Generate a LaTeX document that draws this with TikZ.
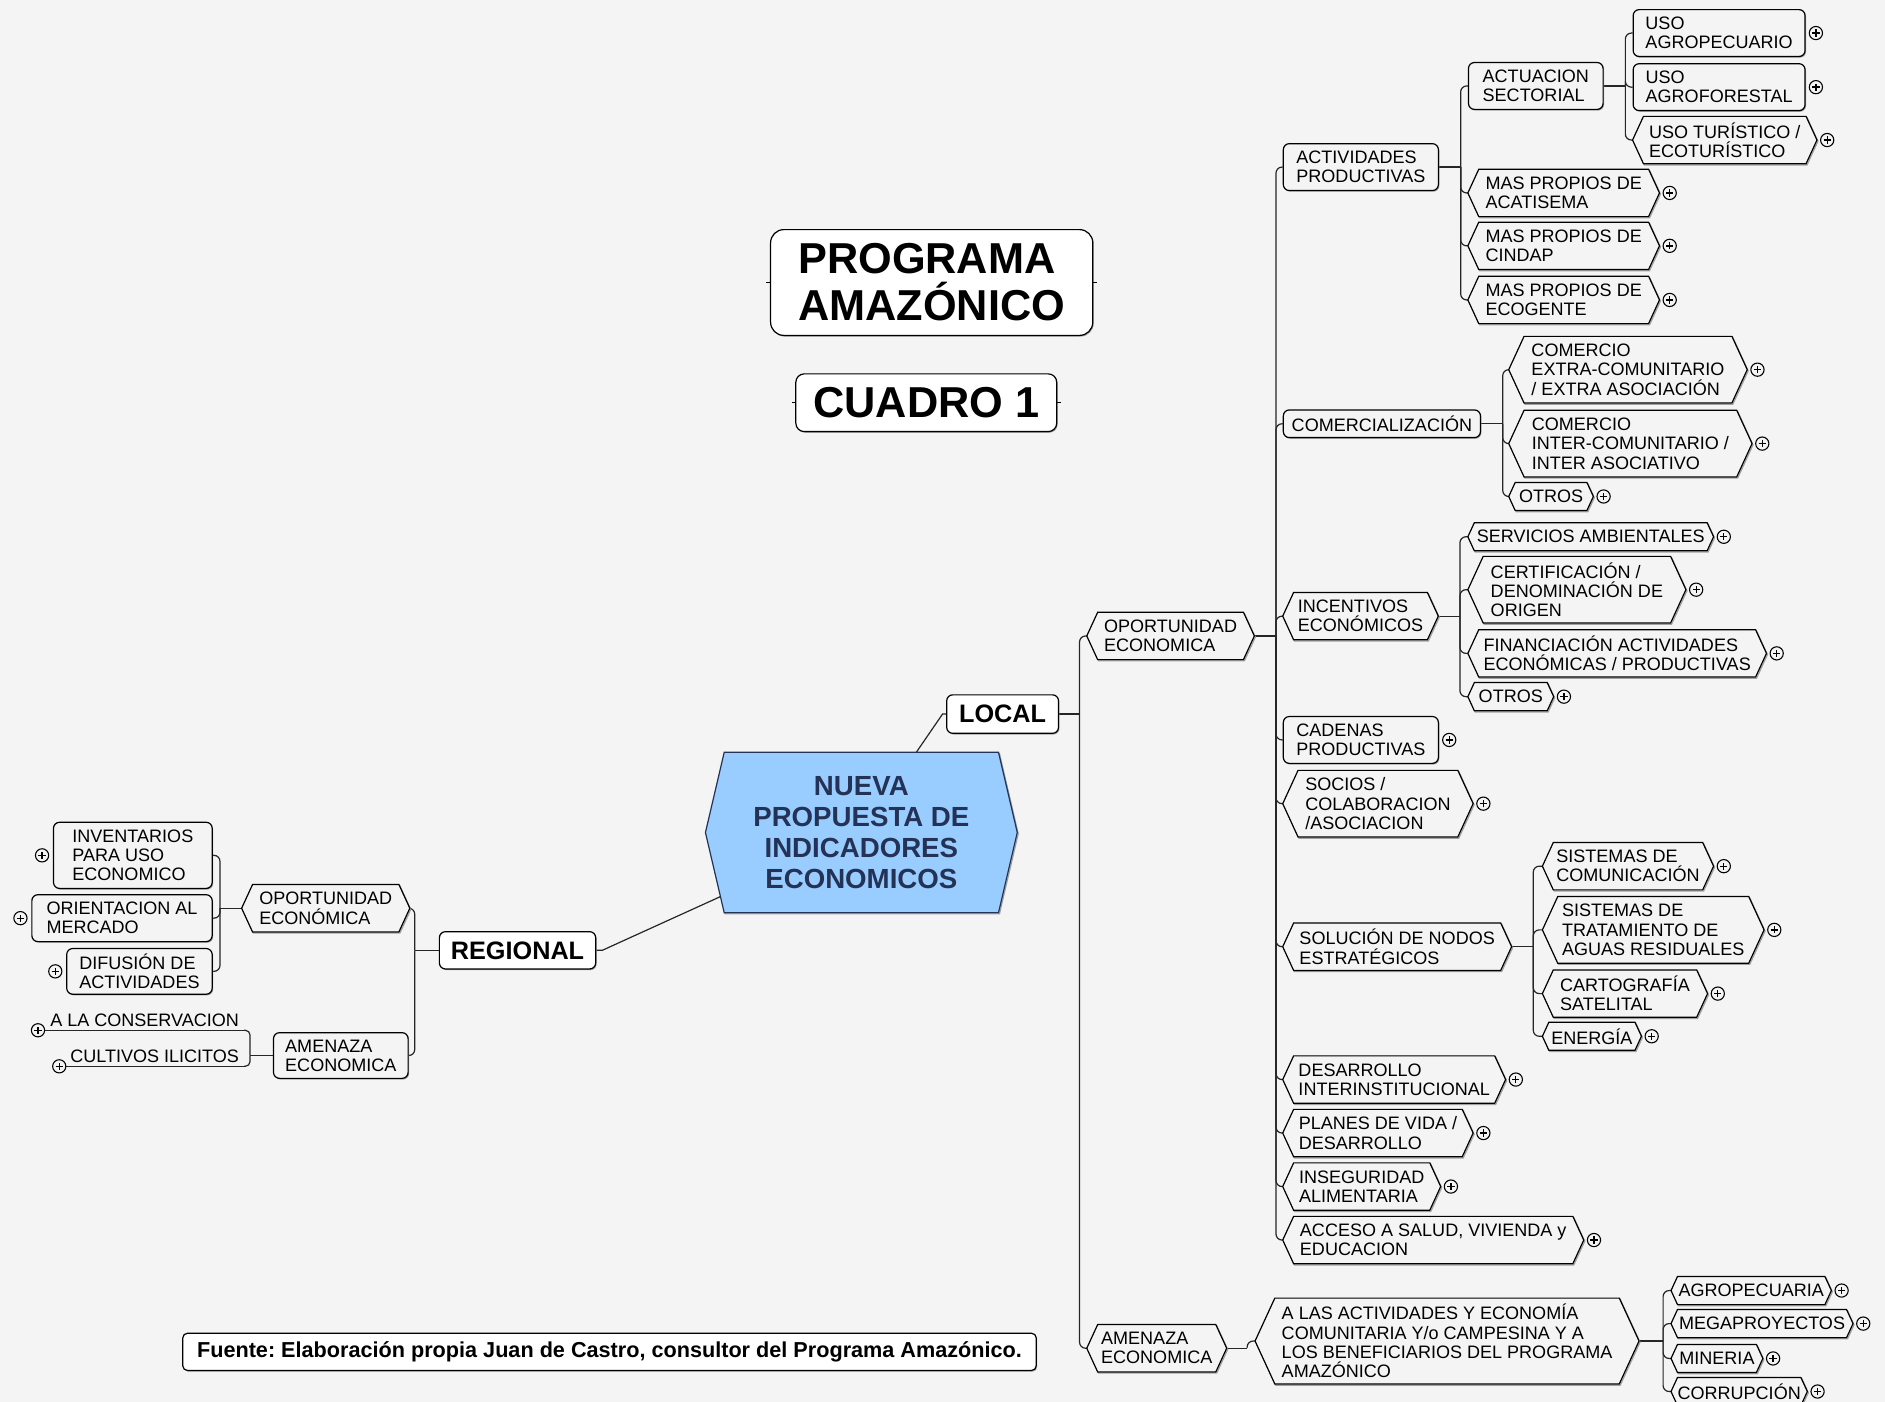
\documentclass[tikz,border=0pt]{standalone}
\usepackage{fontspec}
\setmainfont{Liberation Sans}
\usetikzlibrary{calc,shadows}
\frenchspacing
\pgfdeclarelayer{bgl}
\pgfdeclarelayer{back}
\pgfdeclarelayer{mid}
\pgfsetlayers{bgl,back,mid,main}
\definecolor{bgc}{RGB}{244,244,244}
\definecolor{blueC}{RGB}{153,204,255}
\definecolor{navy}{RGB}{35,50,85}
\definecolor{shad}{RGB}{160,160,160}
\tikzset{
 base/.style={inner sep=1pt, align=left, font=\fontsize{15}{16}\selectfont, anchor=west},
 sz/.style 2 args={minimum width=#1pt, minimum height=#2pt},
 rbox/.style={base, draw, line width=1pt, rounded corners=5pt, fill=bgc,
   drop shadow={shadow xshift=0.8pt, shadow yshift=-1pt, fill=shad, opacity=1}},
 wbox/.style={rbox, fill=white, align=center, font=\bfseries\fontsize{21}{24}\selectfont},
 tbox/.style={draw, line width=1pt, fill=white, inner sep=1pt, align=left, anchor=center,
   font=\bfseries\fontsize{36}{39}\selectfont,
   drop shadow={shadow xshift=0.8pt, shadow yshift=-1pt, fill=shad, opacity=1}},
 hexn/.style={base},
 conn/.style={line width=1pt, draw=black!85},
 plusic/.style={circle, draw, line width=0.9pt, minimum size=11pt, inner sep=0pt, fill=bgc,
   path picture={\draw[line width=1.1pt]
     ([xshift=-3pt]path picture bounding box.center) -- ([xshift=3pt]path picture bounding box.center)
     ([yshift=-3pt]path picture bounding box.center) -- ([yshift=3pt]path picture bounding box.center);}},
}
\newcommand\hexshape[3][]{%
 \path[draw=shad,line width=1pt,transform canvas={shift={(0.8pt,-1pt)}}]
   let \p1=(#2.north), \p2=(#2.south), \n1={#3*abs(\y1-\y2)} in
   (#2.west) -- ([xshift=\n1]#2.north west) -- ([xshift=-\n1]#2.north east) -- (#2.east)
   -- ([xshift=-\n1]#2.south east) -- ([xshift=\n1]#2.south west) -- cycle;
 \path[draw=black,line width=1pt,fill=bgc,#1]
   let \p1=(#2.north), \p2=(#2.south), \n1={#3*abs(\y1-\y2)} in
   (#2.west) -- ([xshift=\n1]#2.north west) -- ([xshift=-\n1]#2.north east) -- (#2.east)
   -- ([xshift=-\n1]#2.south east) -- ([xshift=\n1]#2.south west) -- cycle;
}
\newcommand\forkR[3]{%
 \draw[conn] (#1.east) -- ++(#2,0) coordinate (#1j);
 \foreach \c in {#3}{\draw[conn,rounded corners=5pt] (#1j) |- (\c.west);}
}
\newcommand\forkL[3]{%
 \draw[conn] (#1.west) -- ++(-#2,0) coordinate (#1j);
 \foreach \c in {#3}{\draw[conn,rounded corners=5pt] (#1j) |- (\c.east);}
}
\newcommand\plusR[1]{\node[plusic] (#1-p) at ([xshift=8.5pt]#1.east) {};}
\newcommand\plusL[1]{\node[plusic] (#1-p) at ([xshift=-9pt]#1.west) {};}

\begin{document}
\begin{tikzpicture}[x=1pt,y=-1pt]
\begin{pgfonlayer}{bgl}
\fill[bgc] (0,0) rectangle (1568,1166);
\end{pgfonlayer}
\useasboundingbox (0,0) rectangle (1568,1166);

% titles
\node[tbox, sz={268}{88}, rounded corners=11pt] (PROG) at (775,235) {PROGRAMA\\AMAZÓNICO};
\node[tbox, sz={217}{48}, rounded corners=7pt] (CUAD) at (770.5,335) {CUADRO 1};
\draw[line width=0.8pt] (PROG.west) -- ++(-3,0) (PROG.east) -- ++(3,0);
\draw[line width=0.8pt] (CUAD.west) -- ++(-3,0) (CUAD.east) -- ++(3,0);

% footer
\node[rbox, fill=white, anchor=center, align=center, rounded corners=4pt, sz={710}{31},
  font=\bfseries\fontsize{18}{20}\selectfont] (FOOT) at (507,1124.5)
  {Fuente: Elaboración propia Juan de Castro, consultor del Programa Amazónico.};

% centre
\node[base, anchor=center, align=center, sz={259}{133}, text=navy,
  font=\bfseries\fontsize{23}{26}\selectfont] (CEN) at (716.5,692.5)
  {NUEVA\\PROPUESTA DE\\INDICADORES\\ECONOMICOS};

\node[wbox, sz={93}{32}] (LOC) at (787,594) {LOCAL};
\node[wbox, sz={130}{31}] (REG) at (365,790.5) {REGIONAL};

% local level 1
\node[hexn, sz={139}{39}] (OPL) at (904,529) {OPORTUNIDAD\\ECONOMICA};
\node[hexn, sz={116}{39}] (AML) at (904,1121.5) {AMENAZA\\ECONOMICA};

% OPL children
\node[rbox,sz={129}{39}] (ACT) at (1067,139) {ACTIVIDADES\\PRODUCTIVAS};
\node[rbox,sz={164}{23}] (COM) at (1067,352.5) {COMERCIALIZACIÓN};
\node[hexn,sz={129}{39}] (INC) at (1067,512.5) {INCENTIVOS\\ECONÓMICOS};
\node[rbox,sz={129}{39}] (CAD) at (1067,615.5) {CADENAS\\PRODUCTIVAS};
\node[hexn,sz={158}{55}] (SOC) at (1067,668.5) {SOCIOS /\\COLABORACION\\/ASOCIACION};
\node[hexn,sz={190}{39}] (SOL) at (1067,787.5) {SOLUCIÓN DE NODOS\\ESTRATÉGICOS};
\node[hexn,sz={185}{39}] (DES) at (1067,898) {DESARROLLO\\INTERINSTITUCIONAL};
\node[hexn,sz={158}{39}] (PLA) at (1067,942.5) {PLANES DE VIDA /\\DESARROLLO};
\node[hexn,sz={131}{39}] (INS) at (1067,987) {INSEGURIDAD\\ALIMENTARIA};
\node[hexn,sz={250}{39}] (ACC) at (1067,1031.5) {ACCESO A SALUD, VIVIENDA y\\EDUCACION};

% ACT children
\node[rbox,sz={112}{39}] (ACTU) at (1221,71.5) {ACTUACION\\SECTORIAL};
\node[hexn,sz={159}{39}] (MPA) at (1221,160.5) {MAS PROPIOS DE\\ACATISEMA};
\node[hexn,sz={159}{39}] (MPC) at (1221,204.5) {MAS PROPIOS DE\\CINDAP};
\node[hexn,sz={159}{39}] (MPE) at (1221,249.5) {MAS PROPIOS DE\\ECOGENTE};

% ACTU children
\node[rbox,sz={143}{39}] (UAP) at (1358,27.5) {USO\\AGROPECUARIO};
\node[rbox,sz={143}{39}] (UAF) at (1358,72.5) {USO\\AGROFORESTAL};
\node[hexn,sz={153}{39}] (UTU) at (1358,116.5) {USO TURÍSTICO /\\ECOTURÍSTICO};

% COM children
\node[hexn,sz={198}{55}] (CEX) at (1255,307.5) {COMERCIO\\EXTRA-COMUNITARIO\\/ EXTRA ASOCIACIÓN};
\node[hexn,sz={202}{55}] (CIN) at (1255,369) {COMERCIO\\INTER-COMUNITARIO /\\INTER ASOCIATIVO};
\node[hexn,sz={70}{23}] (COT) at (1255,413) {OTROS};

% INC children
\node[hexn,sz={204}{23}] (SER) at (1221,446.5) {SERVICIOS AMBIENTALES};
\node[hexn,sz={181}{55}] (CER) at (1221,490.5) {CERTIFICACIÓN /\\DENOMINACIÓN DE\\ORIGEN};
\node[hexn,sz={248}{39}] (FIN) at (1221,543.5) {FINANCIACIÓN ACTIVIDADES\\ECONÓMICAS / PRODUCTIVAS};
\node[hexn,sz={71}{23}] (IOT) at (1221,579.5) {OTROS};

% SOL children
\node[hexn,sz={142}{39}] (SCO) at (1283,720.5) {SISTEMAS DE\\COMUNICACIÓN};
\node[hexn,sz={184}{55}] (STR) at (1283,773.5) {SISTEMAS DE\\TRATAMIENTO DE\\AGUAS RESIDUALES};
\node[hexn,sz={137}{39}] (SCA) at (1283,826.5) {CARTOGRAFÍA\\SATELITAL};
\node[hexn,sz={82}{23}] (SEN) at (1283,862) {ENERGÍA};

% AML children
\node[hexn,sz={319}{71}] (ALAS) at (1044,1115.5) {A LAS ACTIVIDADES Y ECONOMÍA\\COMUNITARIA Y/o CAMPESINA Y A\\LOS BENEFICIARIOS DEL PROGRAMA\\AMAZÓNICO};
\node[hexn,sz={133}{23}] (AGR) at (1390,1073.5) {AGROPECUARIA};
\node[hexn,sz={151}{23}] (MEG) at (1390,1101) {MEGAPROYECTOS};
\node[hexn,sz={76}{23}] (MIN) at (1390,1130) {MINERIA};
\node[hexn,sz={113}{23}] (COR) at (1390,1157.5) {CORRUPCIÓN};

% regional
\node[hexn,sz={139.5}{39}] (OPR) at (201,755.5) {OPORTUNIDAD\\ECONÓMICA};
\node[rbox,sz={112}{38}] (AMR) at (227,878) {AMENAZA\\ECONOMICA};
\node[rbox,sz={132}{55}] (INV) at (44,711.5) {INVENTARIOS\\PARA USO\\ECONOMICO};
\node[rbox,sz={150}{39}] (ORI) at (26,763.75) {ORIENTACION AL\\MERCADO};
\node[rbox,sz={121}{38}] (DIF) at (55,808) {DIFUSIÓN DE\\ACTIVIDADES};
\node[base, anchor=south east, inner xsep=4pt, inner ysep=3pt, text depth=0pt] (CONS) at (203,857) {A LA CONSERVACION};
\node[base, anchor=south east, inner xsep=4pt, inner ysep=3pt, text depth=0pt] (CULT) at (203,887) {CULTIVOS ILICITOS};

% plus icons
\foreach \q in {UAP,UAF,UTU,MPA,MPC,MPE,CEX,CIN,COT,SER,CER,FIN,IOT,CAD,SOC,SCO,STR,SCA,SEN,DES,PLA,INS,ACC,AGR,MEG,MIN,COR}{\plusR{\q}}
\foreach \q in {INV,ORI,DIF}{\plusL{\q}}
\node[plusic] (CONS-p) at ([xshift=-6pt]CONS.south west) {};
\node[plusic] (CULT-p) at ([xshift=-5pt]CULT.south west) {};

% hexagon outlines
\begin{pgfonlayer}{mid}
\foreach \h in {OPL,AML,INC,SOC,SOL,DES,PLA,INS,ACC,MPA,MPC,MPE,UTU,CEX,CIN,COT,SER,CER,FIN,IOT,SCO,STR,SCA,SEN,ALAS,AGR,MEG,MIN,COR,OPR}{\hexshape{\h}{0.23}}
\hexshape[fill=blueC,draw=navy]{CEN}{0.117}
\end{pgfonlayer}

% connectors
\begin{pgfonlayer}{back}
\draw[conn] (LOC.west) -- ++(-3,0) -- (CEN.center);
\draw[conn] (REG.east) -- ++(5,0) -- (CEN.center);
\forkR{LOC}{17}{OPL,AML}
\forkR{OPL}{18}{ACT,COM,INC,CAD,SOC,SOL,DES,PLA,INS,ACC}
\forkR{ACT}{18}{ACTU,MPA,MPC,MPE}
\forkR{ACTU}{18}{UAP,UAF,UTU}
\forkR{COM}{18}{CEX,CIN,COT}
\forkR{INC}{18}{SER,CER,FIN,IOT}
\forkR{SOL}{18}{SCO,STR,SCA,SEN}
\forkR{AML}{17}{ALAS}
\forkR{ALAS}{20}{AGR,MEG,MIN,COR}
\forkL{REG}{20}{OPR,AMR}
\forkL{OPR}{18}{INV,ORI,DIF}
\draw[conn] (AMR.west) -- ++(-19,0) coordinate (AMRj);
\draw[conn,rounded corners=4pt] (AMRj) |- (CONS.south east);
\draw[conn,rounded corners=4pt] (AMRj) |- (CULT.south east);
\draw[conn] (CONS-p.east) -- (CONS.south east);
\draw[conn] (CULT-p.east) -- (CULT.south east);
\end{pgfonlayer}
\end{tikzpicture}
\end{document}
